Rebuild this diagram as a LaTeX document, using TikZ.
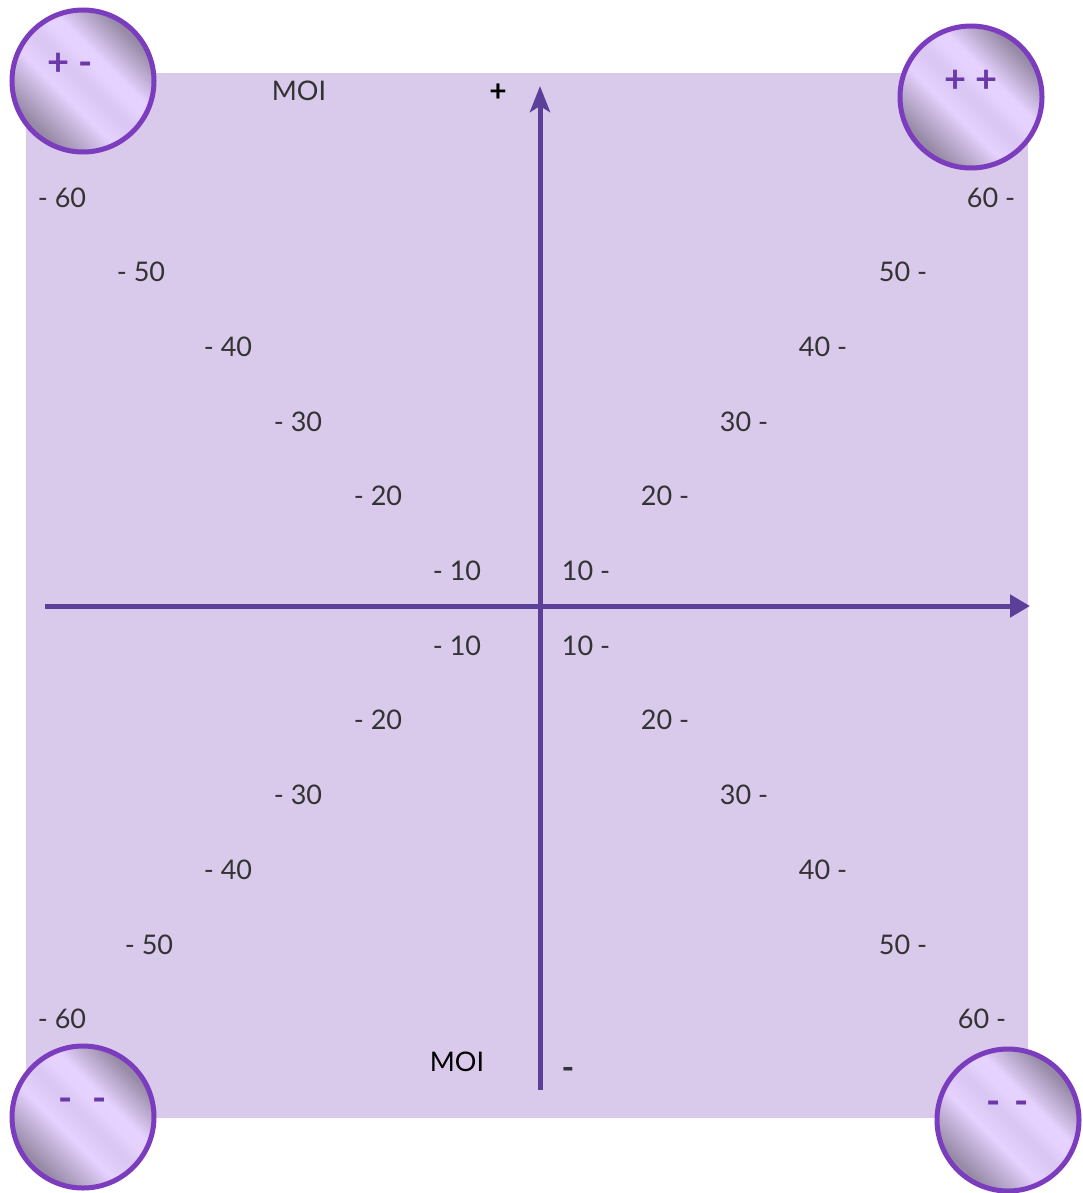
\documentclass[tikz,border=0pt]{standalone}
\usepackage{fontspec}
\setmainfont{Lato}
\usetikzlibrary{arrows.meta}
\definecolor{bgpurple}{HTML}{D9C9EA}
\definecolor{axiscol}{HTML}{5B3F99}
\definecolor{ringcol}{HTML}{7B3DBE}
\definecolor{signcol}{HTML}{6B38A8}
\definecolor{labelcol}{HTML}{333333}
\definecolor{sheendk}{HTML}{978AA6}
\definecolor{sheenlt}{HTML}{E6D2FF}
\definecolor{sheenmd}{HTML}{DAC7F3}
\pgfdeclarehorizontalshading{sheen}{100bp}{color(0bp)=(sheendk); color(27bp)=(sheendk); color(42bp)=(sheenlt); color(49bp)=(sheenmd); color(51bp)=(sheenmd); color(56bp)=(sheenlt); color(60bp)=(sheenlt); color(73bp)=(sheendk); color(100bp)=(sheendk)}
\begin{document}
\begin{tikzpicture}[x=1pt,y=-1pt,
  lbl/.style={font=\fontsize{27}{30}\selectfont, text=labelcol, inner sep=0pt},
  moi/.style={font=\fontsize{27}{30}\selectfont, inner sep=0pt},
  sign/.style={font=\fontsize{38}{40}\selectfont\bfseries, text=signcol, inner sep=0pt},
  ball/.style={circle, minimum size=142pt, draw=ringcol, line width=5pt, shading=sheen, shading angle=45, inner sep=0pt},
  axis/.style={draw=axiscol, line width=5pt}]
\useasboundingbox (0,0) rectangle (1082,1193);
\fill[bgpurple] (26,73) rectangle (1028,1118);
% axes
\coordinate (vbot) at (540,1090);
\coordinate (vtop) at (540,86);
\coordinate (hleft) at (45,606);
\coordinate (hright) at (1030,606);
\draw[axis, -{Stealth[length=26pt,width=20pt,inset=6pt]}] (vbot) -- (vtop);
\draw[axis, -{Triangle[length=20pt,width=22pt]}] (hleft) -- (hright);
% axis labels
\node[moi, text=labelcol] (moitop) at (299,91) {MOI};
\node[font=\fontsize{30}{32}\selectfont\bfseries, inner sep=0pt] (plus) at (498,93) {+};
\node[moi, text=black] (moibot) at (457,1062) {MOI};
\node[font=\fontsize{34}{36}\selectfont\bfseries, text=labelcol, inner sep=0pt] (minus) at (568,1073) {-};
% upper left
\node[lbl] (ul60) at (62,198) {- 60};
\node[lbl] (ul50) at (141,272) {- 50};
\node[lbl] (ul40) at (228,347) {- 40};
\node[lbl] (ul30) at (298,422) {- 30};
\node[lbl] (ul20) at (378,496) {- 20};
\node[lbl] (ul10) at (457,571) {- 10};
% upper right
\node[lbl] (ur60) at (991,198) {60 -};
\node[lbl] (ur50) at (903,272) {50 -};
\node[lbl] (ur40) at (823,347) {40 -};
\node[lbl] (ur30) at (744,422) {30 -};
\node[lbl] (ur20) at (665,496) {20 -};
\node[lbl] (ur10) at (586,571) {10 -};
% lower left
\node[lbl] (ll10) at (457,646) {- 10};
\node[lbl] (ll20) at (378,720) {- 20};
\node[lbl] (ll30) at (298,795) {- 30};
\node[lbl] (ll40) at (228,870) {- 40};
\node[lbl] (ll50) at (149,945) {- 50};
\node[lbl] (ll60) at (62,1019) {- 60};
% lower right
\node[lbl] (lr10) at (586,646) {10 -};
\node[lbl] (lr20) at (665,720) {20 -};
\node[lbl] (lr30) at (744,795) {30 -};
\node[lbl] (lr40) at (823,870) {40 -};
\node[lbl] (lr50) at (903,945) {50 -};
\node[lbl] (lr60) at (982,1019) {60 -};
% corner balls
\node[ball] (balltl) at (83,81) {};
\node[ball] (balltr) at (971,97) {};
\node[ball] (ballbl) at (83,1117) {};
\node[ball] (ballbr) at (1008,1120) {};
\node[sign] (signtl) at (70,64) {+ -};
\node[sign] (signtr) at (971,81) {+ +};
\node[sign] (signbl) at (83,1105) {-\hspace{20pt}-};
\node[sign] (signbr) at (1008,1108) {-\hspace{14pt}-};
\end{tikzpicture}
\end{document}
